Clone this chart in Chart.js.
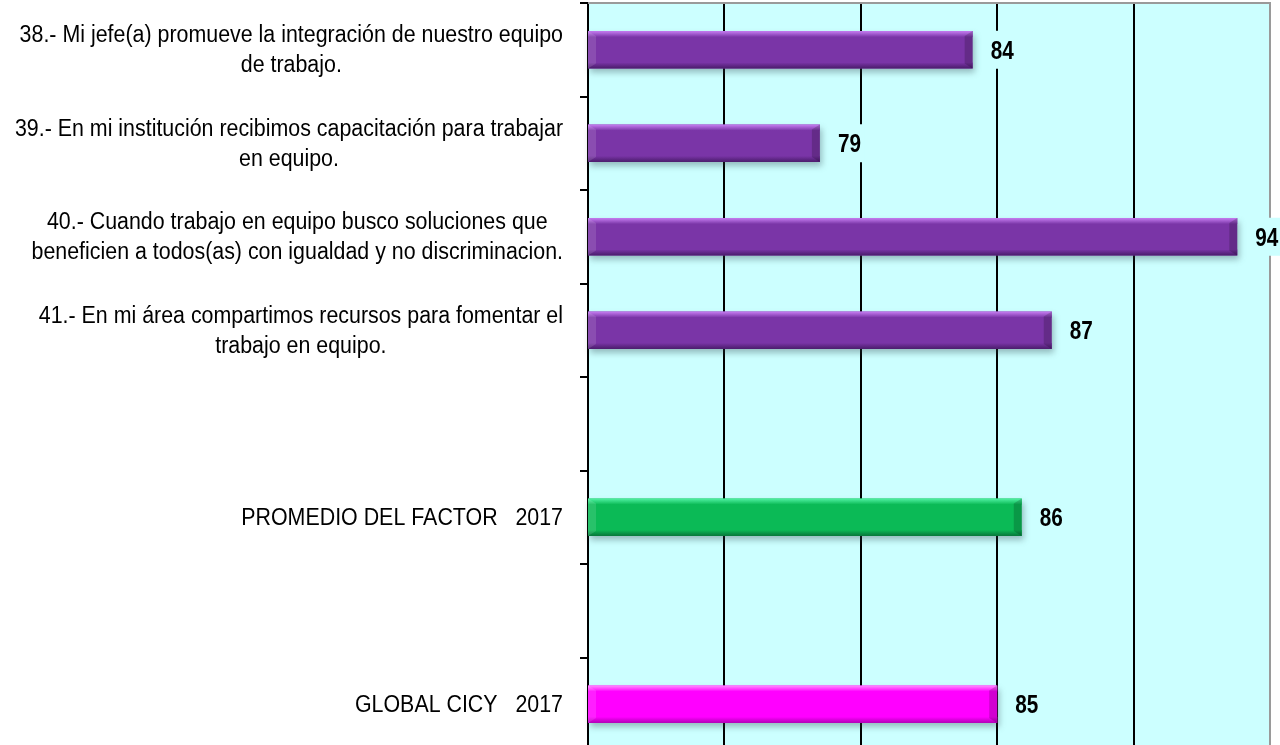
<!DOCTYPE html>
<html>
<head>
<meta charset="utf-8">
<script src="https://cdn.jsdelivr.net/npm/chart.js@4/dist/chart.umd.min.js"></script>
<style>
  html, body { margin: 0; padding: 0; background: #fff; overflow: hidden; }
  #wrap { position: relative; width: 1280px; height: 760px; }
</style>
</head>
<body>
<div id="wrap"><canvas id="chart"></canvas></div>
<script>
// categories (one slot each, empty strings are the gaps)
const categories = [
  ["38.- Mi jefe(a) promueve la integración de nuestro equipo", "de trabajo."],
  ["39.- En mi institución recibimos capacitación para trabajar", "en equipo."],
  ["40.- Cuando trabajo en equipo busco soluciones que", "beneficien a todos(as) con igualdad y no discriminacion."],
  ["41.- En mi área compartimos recursos para fomentar el", "trabajo en equipo."],
  "",
  "PROMEDIO DEL FACTOR   2017",
  "",
  "GLOBAL CICY   2017"
];
// bar lengths
const values = [84.1, 78.5, 93.8, 87.0, null, 85.9, null, 85.0];
// printed value labels
const valueLabels = ["84", "79", "94", "87", "", "86", "", "85"];
// x axis range
const axisMin = 70, axisMax = 95, axisStep = 5;

const barStyles = {
  purple:  { body: "#7A35A7", hi: "#C77FF3", lo: "#4A1C6B" },
  green:   { body: "#0BBA56", hi: "#52F2A4", lo: "#06753A" },
  magenta: { body: "#FF00FF", hi: "#FF8CFF", lo: "#B000B4" }
};
const barKinds = ["purple", "purple", "purple", "purple", null, "green", null, "magenta"];

// narrow look: regular face squeezed horizontally
const labelFont = '23px "Liberation Sans", Arial, sans-serif';
const labelSqueeze = 0.93;
const valueFont = 'bold 25px "Liberation Sans", Arial, sans-serif';
const valueSqueeze = 0.83;
const plotBg = "#CCFFFF";

function squeezedText(ctx, txt, x, y, sx) {
  ctx.save();
  ctx.translate(x, y);
  ctx.scale(sx, 1);
  ctx.fillText(txt, 0, 0);
  ctx.restore();
}

const bgPlugin = {
  id: "plotBg",
  beforeDraw(chart) {
    const { ctx, chartArea: a } = chart;
    ctx.save();
    ctx.fillStyle = plotBg;
    ctx.fillRect(a.left, a.top, a.right - a.left, a.bottom - a.top);
    ctx.restore();
  }
};

function barBox(chart, el) {
  const p = el.getProps(["x", "y", "base", "height"], true);
  const a = chart.chartArea;
  const left = Math.max(Math.min(p.x, p.base), a.left);
  const right = Math.max(p.x, p.base);
  return { left, right, top: p.y - p.height / 2, bottom: p.y + p.height / 2, cy: p.y };
}

const bevelPlugin = {
  id: "bevel",
  beforeDatasetsDraw(chart) {
    // soft shadow under the bars
    const ctx = chart.ctx;
    const meta = chart.getDatasetMeta(0);
    ctx.save();
    ctx.filter = "blur(3px)";
    ctx.fillStyle = "rgba(40,60,70,0.35)";
    meta.data.forEach((el, i) => {
      if (values[i] == null) return;
      const b = barBox(chart, el);
      ctx.fillRect(b.left + 2, b.top + 4, b.right - b.left, b.bottom - b.top);
    });
    ctx.restore();
  },
  afterDatasetsDraw(chart) {
    const ctx = chart.ctx;
    const meta = chart.getDatasetMeta(0);
    ctx.save();
    meta.data.forEach((el, i) => {
      if (values[i] == null) return;
      const st = barStyles[barKinds[i]];
      const b = barBox(chart, el);
      const w = b.right - b.left;
      // top highlight
      let g = ctx.createLinearGradient(0, b.top, 0, b.top + 6);
      g.addColorStop(0, st.hi);
      g.addColorStop(1, st.body);
      ctx.fillStyle = g;
      ctx.fillRect(b.left, b.top, w, 6);
      // bottom dark edge
      g = ctx.createLinearGradient(0, b.bottom - 6, 0, b.bottom);
      g.addColorStop(0, st.body);
      g.addColorStop(1, st.lo);
      ctx.fillStyle = g;
      ctx.fillRect(b.left, b.bottom - 6, w, 6);
      // right end cap
      ctx.fillStyle = "rgba(0,0,0,0.18)";
      ctx.beginPath();
      ctx.moveTo(b.right - 8, b.top + 5);
      ctx.lineTo(b.right, b.top);
      ctx.lineTo(b.right, b.bottom);
      ctx.lineTo(b.right - 8, b.bottom - 5);
      ctx.closePath();
      ctx.fill();
      // left end bevel, lighter
      ctx.fillStyle = "rgba(255,255,255,0.12)";
      ctx.beginPath();
      ctx.moveTo(b.left, b.top);
      ctx.lineTo(b.left + 8, b.top + 5);
      ctx.lineTo(b.left + 8, b.bottom - 5);
      ctx.lineTo(b.left, b.bottom);
      ctx.closePath();
      ctx.fill();
    });

    // value labels with a plot-coloured box behind them
    ctx.font = valueFont;
    ctx.textBaseline = "middle";
    ctx.textAlign = "left";
    meta.data.forEach((el, i) => {
      if (values[i] == null) return;
      const b = barBox(chart, el);
      const txt = valueLabels[i];
      const tw = ctx.measureText(txt).width * valueSqueeze;
      const tx = b.right + 18;
      ctx.fillStyle = plotBg;
      ctx.fillRect(tx - 4, b.cy - 19, tw + 8, 38);
      ctx.fillStyle = "#000";
      squeezedText(ctx, txt, tx, b.cy + 2, valueSqueeze);
    });
    ctx.restore();
  },
  afterDraw(chart) {
    const { ctx, chartArea: a } = chart;
    ctx.save();
    // top frame line
    ctx.strokeStyle = "#9a9a9a";
    ctx.lineWidth = 2;
    ctx.beginPath();
    ctx.moveTo(a.left, a.top);
    ctx.lineTo(a.right + 1, a.top);
    ctx.stroke();

    // category labels: each block right aligned, lines centred inside it
    const y = chart.scales.y;
    ctx.font = labelFont;
    ctx.fillStyle = "#000";
    ctx.textBaseline = "middle";
    ctx.textAlign = "center";
    const rightEdge = 563, lineH = 30;
    categories.forEach((lab, i) => {
      const lines = Array.isArray(lab) ? lab : [lab];
      if (!lines.join("")) return;
      const widest = Math.max(...lines.map(l => ctx.measureText(l).width)) * labelSqueeze;
      const cx = rightEdge - widest / 2;
      const cy = y.getPixelForValue(i);
      const y0 = cy - (lines.length - 1) * lineH / 2 + 1;
      lines.forEach((l, k) => squeezedText(ctx, l, cx, y0 + k * lineH, labelSqueeze));
    });
    ctx.restore();
  }
};

new Chart(document.getElementById("chart"), {
  type: "bar",
  data: {
    labels: categories,
    datasets: [{
      data: values,
      backgroundColor: barKinds.map(k => k ? barStyles[k].body : "transparent"),
      borderWidth: 0,
      barPercentage: 0.4,
      categoryPercentage: 1.0
    }]
  },
  options: {
    indexAxis: "y",
    responsive: true,
    maintainAspectRatio: false,
    animation: false,
    layout: { padding: { top: 3, right: 10, bottom: 9, left: 0 } },
    plugins: {
      legend: { display: false },
      tooltip: { enabled: false }
    },
    scales: {
      x: {
        min: axisMin,
        max: axisMax,
        ticks: { display: false, stepSize: axisStep },
        grid: {
          drawTicks: false,
          lineWidth: 2,
          color: c => (c.tick && c.tick.value === axisMax) ? "#9a9a9a" : "#000"
        },
        border: { display: false }
      },
      y: {
        ticks: { display: false },
        grid: {
          drawOnChartArea: false,
          drawTicks: true,
          tickLength: 8,
          lineWidth: 2,
          color: "#000"
        },
        border: { display: true, color: "#000", width: 2 },
        afterFit(scale) { scale.width = 588; }
      }
    }
  },
  plugins: [bgPlugin, bevelPlugin]
});
</script>
</body>
</html>
